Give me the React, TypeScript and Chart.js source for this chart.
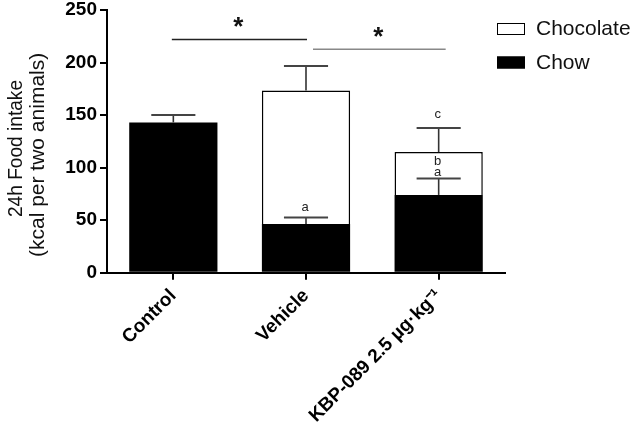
import { useEffect, useRef } from "react";
import { Chart, registerables } from "chart.js";

Chart.register(...registerables);

// ---- data ----
const categories = ["Control", "Vehicle", "KBP-089 2.5 µg·kg⁻¹"];
const seriesNames = ["Chow", "Chocolate"];
const chowValues = [143, 46.3, 74];
const chowErrors = [7, 6.3, 15.7];
const chocolateValues: (number | null)[] = [null, 127.1, 40.8];
const chocolateErrors: (number | null)[] = [null, 23.4, 23];
const yTicks = [0, 50, 100, 150, 200, 250];
const yTitleLines = ["24h Food intake", "(kcal per two animals)"];
const significance = [
  { from: 0, to: 1, level: 222, label: "*" },
  { from: 1, to: 2, level: 212.6, label: "*" },
];
const letters = [
  { cat: 1, anchor: "chow", text: "a" },
  { cat: 2, anchor: "chow", text: "a" },
  { cat: 2, anchor: "chow2", text: "b" },
  { cat: 2, anchor: "total", text: "c" },
];

const FONT = "'Liberation Sans', Arial, Helvetica, sans-serif";

const overlayPlugin = {
  id: "overlay",
  afterDatasetsDraw(chart: any) {
    const ctx: CanvasRenderingContext2D = chart.ctx;
    const xs = chart.scales.x;
    const ys = chart.scales.y;
    const meta = chart.getDatasetMeta(0);
    const area = chart.chartArea;
    ctx.save();

    // error bars
    const drawErr = (cx: number, half: number, base: number, top: number) => {
      const yb = ys.getPixelForValue(base);
      const yt = ys.getPixelForValue(top);
      ctx.strokeStyle = "#333";
      ctx.lineWidth = 1.6;
      ctx.beginPath();
      ctx.moveTo(cx, yb);
      ctx.lineTo(cx, yt);
      ctx.stroke();
      ctx.strokeStyle = "#444";
      ctx.lineWidth = 2;
      ctx.beginPath();
      ctx.moveTo(cx - half, yt);
      ctx.lineTo(cx + half, yt);
      ctx.stroke();
    };
    categories.forEach((_, i) => {
      const bar = meta.data[i];
      const cx = bar.x;
      const half = bar.width / 4;
      drawErr(cx, half, chowValues[i], chowValues[i] + chowErrors[i]);
      const c = chocolateValues[i];
      const ce = chocolateErrors[i];
      if (c != null && ce != null) {
        const total = chowValues[i] + c;
        drawErr(cx, half, total, total + ce);
      }
    });

    // letters
    ctx.fillStyle = "#222";
    ctx.font = `13px ${FONT}`;
    ctx.textAlign = "center";
    ctx.textBaseline = "middle";
    letters.forEach((l) => {
      const i = l.cat;
      const cx = xs.getPixelForValue(i);
      let v: number;
      let dy: number;
      if (l.anchor === "total") {
        v = chowValues[i] + (chocolateValues[i] ?? 0) + (chocolateErrors[i] ?? 0);
        dy = -13.5;
      } else {
        v = chowValues[i] + chowErrors[i];
        dy = l.anchor === "chow2" ? -17.5 : i === 1 ? -10.5 : -6.5;
      }
      ctx.fillText(l.text, cx - 1, ys.getPixelForValue(v) + dy);
    });

    // significance lines
    significance.forEach((s, k) => {
      const x0 = xs.getPixelForValue(s.from) + (k === 0 ? -1.5 : 7);
      const x1 = xs.getPixelForValue(s.to) + (k === 0 ? 1 : 7);
      const yy = ys.getPixelForValue(s.level);
      ctx.strokeStyle = k === 0 ? "#222" : "#888";
      ctx.lineWidth = 1.5;
      ctx.beginPath();
      ctx.moveTo(x0, yy);
      ctx.lineTo(x1, yy);
      ctx.stroke();
      ctx.fillStyle = "#111";
      ctx.font = `bold 26px ${FONT}`;
      ctx.textAlign = "center";
      ctx.textBaseline = "alphabetic";
      ctx.fillText(s.label, (x0 + x1) / 2 - 1, yy - 4);
    });

    // legend (Chocolate first, then Chow)
    const lx = area.right - 8;
    const order = [1, 0];
    order.forEach((di, k) => {
      const ds = chart.data.datasets[di];
      const top = area.top + 13 + k * 33.5;
      ctx.fillStyle = ds.backgroundColor;
      ctx.fillRect(lx, top, 28, 12);
      ctx.strokeStyle = "#000";
      ctx.lineWidth = 1;
      ctx.strokeRect(lx + 0.5, top + 0.5, 27, 11);
      ctx.fillStyle = "#111";
      ctx.font = `21px ${FONT}`;
      ctx.textAlign = "left";
      ctx.textBaseline = "middle";
      ctx.fillText(ds.label, lx + 39, top + 6.5);
    });

    // y title
    ctx.fillStyle = "#111";
    ctx.font = `21px ${FONT}`;
    ctx.textAlign = "left";
    ctx.textBaseline = "alphabetic";
    const titlePos = [
      { x: 21.7, y: 217, w: 137 },
      { x: 43.5, y: 257, w: 222 },
    ];
    yTitleLines.forEach((line, k) => {
      const p = titlePos[k];
      ctx.save();
      ctx.translate(p.x, p.y);
      ctx.rotate(-Math.PI / 2);
      ctx.fillText(line, 0, 0, p.w);
      ctx.restore();
    });

    ctx.restore();
  },
};

export default function App() {
  const ref = useRef<HTMLCanvasElement | null>(null);
  useEffect(() => {
    if (!ref.current) return;
    const chart = new Chart(ref.current, {
      type: "bar",
      data: {
        labels: categories,
        datasets: [
          {
            label: seriesNames[0],
            data: chowValues,
            backgroundColor: "#000000",
            borderColor: "#000000",
            borderWidth: 0,
            stack: "s",
          },
          {
            label: seriesNames[1],
            data: chocolateValues,
            backgroundColor: "#ffffff",
            borderColor: "#000000",
            borderWidth: 1.5,
            stack: "s",
          },
        ],
      },
      options: {
        responsive: false,
        animation: false,
        devicePixelRatio: 1,
        layout: { padding: { left: 0, top: 10, right: 127, bottom: 0 } },
        datasets: { bar: { categoryPercentage: 1, barPercentage: 0.665 } },
        plugins: {
          legend: { display: false },
          tooltip: { enabled: false },
        },
        scales: {
          x: {
            stacked: true,
            grid: {
              offset: false,
              drawOnChartArea: false,
              drawTicks: true,
              tickLength: 7,
              color: "#000",
              lineWidth: 2,
            },
            border: { display: true, color: "#000", width: 2 },
            ticks: {
              autoSkip: false,
              maxRotation: 45,
              minRotation: 45,
              color: "#000",
              padding: 5,
              font: { family: FONT, size: 19, weight: "bold" },
            },
            afterFit(scale: any) {
              scale.height = 429 - 272.7;
              scale.paddingLeft = 0;
              scale.paddingRight = 0;
            },
          },
          y: {
            stacked: true,
            min: yTicks[0],
            max: yTicks[yTicks.length - 1],
            afterBuildTicks(scale: any) {
              scale.ticks = yTicks.map((v) => ({ value: v }));
            },
            grid: {
              drawOnChartArea: false,
              drawTicks: true,
              tickLength: 7,
              color: "#000",
              lineWidth: 2,
            },
            border: { display: true, color: "#000", width: 2 },
            ticks: {
              color: "#000",
              padding: 3,
              font: { family: FONT, size: 19, weight: "bold" },
            },
            afterFit(scale: any) {
              scale.width = 107;
              scale.paddingTop = 0;
              scale.paddingBottom = 0;
            },
          },
        },
      },
      plugins: [overlayPlugin],
    });
    return () => chart.destroy();
  }, []);
  return (
    <div style={{ position: "fixed", left: 0, top: 0, width: 632, height: 429, background: "#fff" }}>
      <canvas ref={ref} width={632} height={429} />
    </div>
  );
}
